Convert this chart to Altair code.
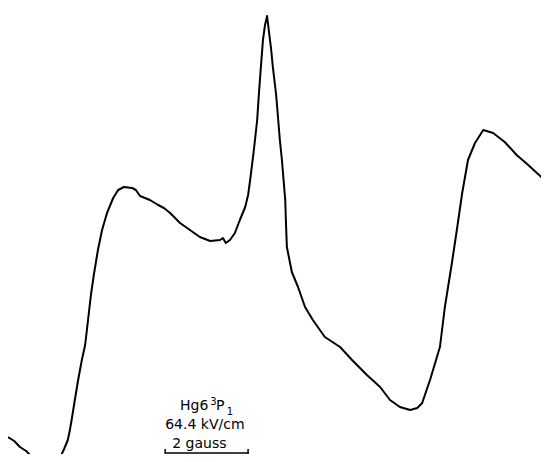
import altair as alt
import pandas as pd

# Magnetic field (gauss) and signal intensity (arbitrary units)
field = [0.00, 0.15, 0.29, 0.44, 0.58, 0.70, 0.90, 1.07, 1.19, 1.28,
         1.36, 1.45, 1.50, 1.55, 1.62, 1.70, 1.79, 1.87, 1.94, 2.01,
         2.08, 2.18, 2.28, 2.40, 2.55, 2.67, 2.81, 3.01, 3.10, 3.20,
         3.44, 3.64, 3.78, 3.93, 4.17, 4.41, 4.65, 4.90, 5.14, 5.21,
         5.28, 5.38, 5.50, 5.62, 5.75, 5.82, 5.87, 5.96, 6.04, 6.08,
         6.13, 6.18, 6.23, 6.28, 6.33, 6.38, 6.42, 6.50, 6.55, 6.59,
         6.64, 6.69, 6.72, 6.74, 6.76, 6.88, 7.03, 7.20, 7.39, 7.68,
         8.05, 8.34, 8.70, 9.02, 9.26, 9.50, 9.75, 9.92, 10.04, 10.23,
         10.47, 10.59, 10.76, 10.88, 11.01, 11.15, 11.32, 11.52, 11.76, 12.04,
         12.33, 12.61, 12.82, 13.09]
intensity = [25, 21, 15, 11, 5, 1, 0, 0, 1, 6,
             13, 22, 32, 44, 62, 82, 102, 117, 142, 167,
             187, 212, 232, 249, 264, 272, 275, 274, 272, 266,
             262, 257, 254, 249, 239, 232, 225, 221, 222, 224,
             219, 222, 229, 242, 255, 267, 282, 312, 342, 367,
             395, 422, 437, 446, 429, 412, 395, 367, 342, 322,
             302, 277, 262, 237, 215, 190, 175, 155, 142, 125,
             115, 102, 87, 75, 62, 55, 52, 54, 59, 82,
             115, 155, 199, 232, 269, 302, 319, 332, 329, 320,
             307, 297, 289, 279]

# Scale bar: 2 gauss
bar_start = 3.81
bar_end = 5.82
bar_level = 9

label_text = ["Hg6", "3", "P", "1", "64.4 kV/cm", "2 gauss"]
label_field = [4.17, 4.90, 5.04, 5.30, 3.81, 3.98]
label_int = [52, 57.5, 52, 47, 33, 14]
label_size = [14, 10, 14, 10, 14, 14]

XMAX = 12.92
YMIN, YMAX = 8, 454

df = pd.DataFrame({"field": field, "intensity": intensity, "order": range(len(field))})
xs = alt.Scale(domain=[0, XMAX], nice=False, zero=False)
ys = alt.Scale(domain=[YMIN, YMAX], nice=False, zero=False)

line = alt.Chart(df).mark_line(color="black", strokeWidth=2, clip=True, strokeJoin="round").encode(
    x=alt.X("field:Q", scale=xs, axis=None),
    y=alt.Y("intensity:Q", scale=ys, axis=None),
    order="order:Q",
)

bar_df = pd.DataFrame({"x": [bar_start], "x2": [bar_end], "y": [bar_level]})
bar = alt.Chart(bar_df).mark_rule(color="black", strokeWidth=1.5).encode(
    x=alt.X("x:Q", scale=xs, axis=None), x2="x2:Q",
    y=alt.Y("y:Q", scale=ys, axis=None),
)
ticks_df = pd.DataFrame({"x": [bar_start, bar_end], "y": [bar_level - 4] * 2, "y2": [bar_level + 4] * 2})
ticks = alt.Chart(ticks_df).mark_rule(color="black", strokeWidth=1.5).encode(
    x=alt.X("x:Q", scale=xs, axis=None),
    y=alt.Y("y:Q", scale=ys, axis=None), y2="y2:Q",
)

lab_df = pd.DataFrame({"t": label_text, "x": label_field, "y": label_int, "s": label_size})
labels = alt.Chart(lab_df).mark_text(color="black", font="DejaVu Sans", align="left", baseline="alphabetic").encode(
    x=alt.X("x:Q", scale=xs, axis=None),
    y=alt.Y("y:Q", scale=ys, axis=None),
    text="t:N",
    size=alt.Size("s:Q", scale=None, legend=None),
)

chart = alt.layer(line, bar, ticks, labels).properties(
    width=533, height=446, padding=0, autosize=alt.AutoSizeParams(type="none"),
    background="white",
).configure_view(strokeWidth=0)

chart.save("out.html", embed_options={"renderer": "svg", "actions": False})
